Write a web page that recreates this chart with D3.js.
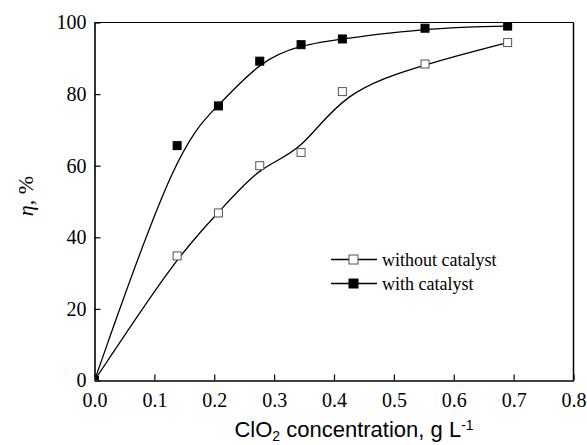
<!DOCTYPE html>
<html>
<head>
<meta charset="utf-8">
<script src="https://cdn.jsdelivr.net/npm/d3@7"></script>
<style>
  html, body { margin: 0; padding: 0; background: #fff; }
  svg { display: block; }
</style>
</head>
<body>
<svg id="chart" width="587" height="445"></svg>
<script>
// ClO2 concentration (g/L) and removal efficiency (%)
const conc = [0, 0.138, 0.207, 0.276, 0.345, 0.414, 0.552, 0.690];
const withoutCatalyst = [0, 34.8, 46.8, 60.0, 63.7, 80.7, 88.4, 94.4];
const withCatalyst = [0, 65.6, 76.7, 89.2, 93.8, 95.4, 98.4, 99.0];
const xTicks = [0.0, 0.1, 0.2, 0.3, 0.4, 0.5, 0.6, 0.7, 0.8];
const yTicks = [0, 20, 40, 60, 80, 100];
const seriesNames = ["without catalyst", "with catalyst"];

const svg = d3.select("#chart");
const m = { left: 94.5, right: 573.5, top: 22.5, bottom: 380.5 };

const x = d3.scaleLinear().domain([0, 0.8]).range([m.left, m.right]);
const y = d3.scaleLinear().domain([0, 100]).range([m.bottom, m.top]);

const serif = "'Liberation Serif', 'Times New Roman', serif";
const sans = "'Liberation Sans', Arial, sans-serif";

svg.append("defs").append("clipPath").attr("id", "plot-clip")
  .append("rect")
  .attr("x", m.left).attr("y", m.top)
  .attr("width", m.right - m.left).attr("height", m.bottom - m.top);

// Frame
svg.append("line").attr("x1", m.left).attr("x2", m.right).attr("y1", m.top).attr("y2", m.top)
  .attr("stroke", "#000").attr("stroke-width", 1.2);
svg.append("line").attr("x1", m.right).attr("x2", m.right).attr("y1", m.top).attr("y2", m.bottom)
  .attr("stroke", "#000").attr("stroke-width", 1.5);

// Axes with inward ticks
const xAxis = svg.append("g").attr("transform", `translate(0,${m.bottom})`)
  .call(d3.axisBottom(x).tickValues(xTicks).tickFormat(d3.format(".1f")).tickSize(-6).tickSizeOuter(0).tickPadding(12));
const yAxis = svg.append("g").attr("transform", `translate(${m.left},0)`)
  .call(d3.axisLeft(y).tickValues(yTicks).tickSize(-6).tickSizeOuter(0).tickPadding(8));

[xAxis, yAxis].forEach(g => {
  g.attr("font-family", serif);
  g.select(".domain").attr("stroke", "#000").attr("stroke-width", 1.6);
  g.selectAll(".tick line").attr("stroke", "#000").attr("stroke-width", 1.2);
  g.selectAll(".tick text").attr("fill", "#000")
    .style("font-family", serif).style("font-size", "20px");
});

// Fitted curves
const line = d3.line()
  .x((d, i) => x(conc[i]))
  .y(d => y(d))
  .curve(d3.curveBasis);

const plot = svg.append("g").attr("clip-path", "url(#plot-clip)");

[withoutCatalyst, withCatalyst].forEach(vals => {
  plot.append("path").datum(vals)
    .attr("d", line)
    .attr("fill", "none")
    .attr("stroke", "#000")
    .attr("stroke-width", 1.3);
});

// Markers
const size = 8;
plot.selectAll("rect.open").data(withoutCatalyst).enter().append("rect")
  .attr("class", "open")
  .attr("x", (d, i) => x(conc[i]) - size / 2)
  .attr("y", d => y(d) - size / 2)
  .attr("width", size).attr("height", size)
  .attr("fill", "#fff").attr("stroke", "#555").attr("stroke-width", 1);

plot.selectAll("rect.filled").data(withCatalyst).enter().append("rect")
  .attr("class", "filled")
  .attr("x", (d, i) => x(conc[i]) - size / 2)
  .attr("y", d => y(d) - size / 2)
  .attr("width", size).attr("height", size)
  .attr("fill", "#000").attr("stroke", "#000").attr("stroke-width", 1);

// Legend
const legend = svg.append("g").attr("transform", "translate(331,259.5)");
seriesNames.forEach((name, i) => {
  const row = legend.append("g").attr("transform", `translate(0,${i * 24})`);
  row.append("line").attr("x1", 0).attr("x2", 46).attr("y1", 0).attr("y2", 0)
    .attr("stroke", "#000").attr("stroke-width", 1.3);
  row.append("rect").attr("x", 22.5 - 4.5).attr("y", -4.5).attr("width", 9).attr("height", 9)
    .attr("fill", i === 0 ? "#fff" : "#000")
    .attr("stroke", i === 0 ? "#555" : "#000").attr("stroke-width", 1);
  row.append("text").attr("x", 51).attr("y", 6)
    .style("font-family", serif).style("font-size", "18px")
    .text(name);
});

// Axis titles
const xt = svg.append("text")
  .attr("x", 354).attr("y", 437)
  .attr("text-anchor", "middle")
  .style("font-family", sans).style("font-size", "22px");
xt.append("tspan").text("ClO");
xt.append("tspan").attr("baseline-shift", "-25%").style("font-size", "14px").text("2");
xt.append("tspan").text(" concentration, g L");
xt.append("tspan").attr("baseline-shift", "50%").style("font-size", "14px").text("-1");

const yt = svg.append("text")
  .attr("transform", "translate(33,196) rotate(-90)")
  .attr("text-anchor", "middle")
  .style("font-family", serif).style("font-size", "22px");
yt.append("tspan").style("font-style", "italic").text("η");
yt.append("tspan").text(", %");
</script>
</body>
</html>
